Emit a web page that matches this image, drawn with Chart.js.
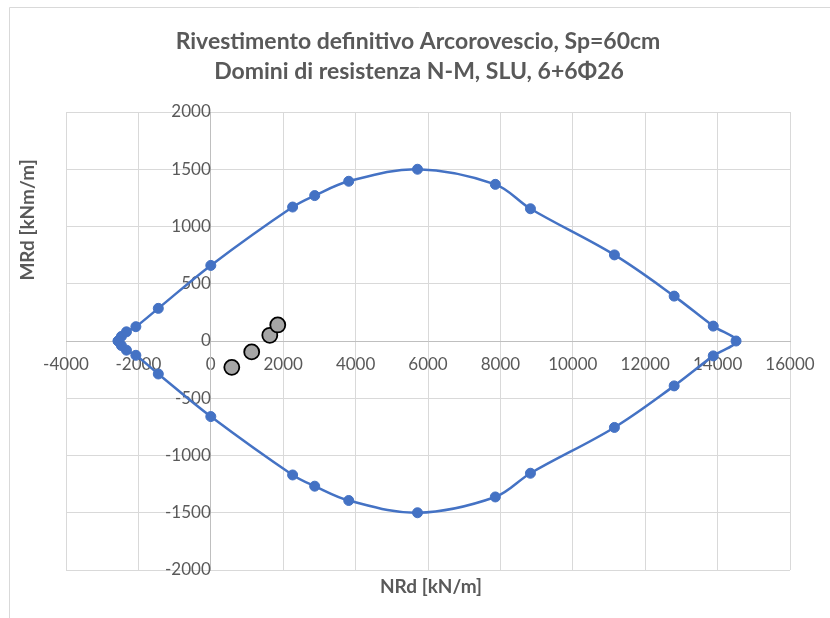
<!DOCTYPE html>
<html>
<head>
<meta charset="utf-8">
<script src="https://cdn.jsdelivr.net/npm/chart.js@4.4.0/dist/chart.umd.min.js"></script>
<style>
html,body{margin:0;padding:0;background:#ffffff;}
canvas{display:block;}
</style>
</head>
<body>
<canvas id="c" width="830" height="618"></canvas>
<script>
// ---- texts ----
const titleLines = ["Rivestimento definitivo Arcorovescio, Sp=60cm", "Domini di resistenza N-M, SLU, 6+6\u03A626"];
const xAxisTitle = "NRd [kN/m]";
const yAxisTitle = "MRd [kNm/m]";

// ---- data: resistance domain (closed loop, upper branch then lower branch) ----
const domainN = [-2560, -2470, -2330, -2070, -1450, 0, 2260, 2870, 3810, 5710, 7860, 8830, 11150, 12800, 13880, 14510,
                 13880, 12800, 11150, 8830, 7860, 5710, 3810, 2870, 2260, 0, -1450, -2070, -2330, -2470, -2560];
const domainM = [0, 40, 80, 125, 285, 660, 1170, 1270, 1395, 1500, 1368, 1155, 752, 392, 130, 0,
                 -130, -392, -755, -1155, -1362, -1500, -1393, -1268, -1170, -660, -288, -125, -80, -40, 0];

// ---- data: acting loads ----
const loadN = [580, 1130, 1630, 1850];
const loadM = [-230, -95, 50, 140];

// ---- tick labels ----
const xTicks = [-4000, -2000, 0, 2000, 4000, 6000, 8000, 10000, 12000, 14000, 16000];
const yTicks = [-2000, -1500, -1000, -500, 0, 500, 1000, 1500, 2000];

const domainPts = domainN.map((n, i) => ({x: n, y: domainM[i]}));
const loadPts = loadN.map((n, i) => ({x: n, y: loadM[i]}));

const TXT = '#595959';
const GRID = '#d9d9d9';

const decorPlugin = {
  id: 'decor',
  beforeDraw(chart) {
    const ctx = chart.ctx;
    ctx.save();
    ctx.fillStyle = '#ffffff';
    ctx.fillRect(0, 0, chart.width, chart.height);
    ctx.strokeStyle = GRID;
    ctx.lineWidth = 1;
    ctx.beginPath();
    ctx.moveTo(9.5, chart.height);
    ctx.lineTo(9.5, 7.5);
    ctx.lineTo(chart.width, 7.5);
    ctx.stroke();
    ctx.restore();
  },
  afterDraw(chart) {
    const ctx = chart.ctx;
    ctx.save();
    ctx.fillStyle = TXT;
    ctx.textAlign = 'center';
    ctx.textBaseline = 'middle';
    ctx.font = 'bold 23px Lato';
    ctx.fillText(titleLines[0], 418, 42);
    ctx.fillText(titleLines[1], 419, 72);
    ctx.font = 'bold 19px Lato';
    ctx.fillText(xAxisTitle, 431, 587);
    ctx.translate(28, 220);
    ctx.rotate(-Math.PI / 2);
    ctx.fillText(yAxisTitle, 0, 0);
    ctx.restore();
  }
};

new Chart(document.getElementById('c'), {
  type: 'scatter',
  data: {
    datasets: [
      {
        label: 'Carichi',
        data: loadPts,
        showLine: false,
        pointRadius: 7.5,
        pointHoverRadius: 7.5,
        pointBackgroundColor: '#a6a6a6',
        pointBorderColor: '#000000',
        pointBorderWidth: 1.8
      },
      {
        label: 'Dominio',
        data: domainPts,
        showLine: true,
        tension: 0.35,
        borderColor: '#4472c4',
        borderWidth: 2.5,
        pointRadius: 5,
        pointHoverRadius: 5,
        pointBackgroundColor: '#4472c4',
        pointBorderColor: '#4472c4',
        pointBorderWidth: 1
      }
    ]
  },
  options: {
    responsive: false,
    animation: false,
    devicePixelRatio: 1,
    layout: {padding: {left: 66, right: 40, top: 112, bottom: 48}},
    plugins: {
      legend: {display: false},
      tooltip: {enabled: false},
      title: {display: false}
    },
    scales: {
      x: {
        type: 'linear',
        position: {y: 0},
        min: -4000,
        max: 16000,
        afterBuildTicks: s => { s.ticks = xTicks.map(v => ({value: v})); },
        ticks: {color: TXT, font: {family: 'Lato', size: 17}, padding: 13, maxRotation: 0, autoSkip: false,
                callback: v => String(v)},
        grid: {color: GRID, lineWidth: 1, drawTicks: false},
        border: {color: '#bfbfbf', width: 1}
      },
      y: {
        type: 'linear',
        position: {x: 0},
        min: -2000,
        max: 2000,
        afterBuildTicks: s => { s.ticks = yTicks.map(v => ({value: v})); },
        ticks: {color: TXT, font: {family: 'Lato', size: 17}, padding: 10, autoSkip: false,
                callback: v => String(v)},
        grid: {color: GRID, lineWidth: 1, drawTicks: false},
        border: {color: '#bfbfbf', width: 1}
      }
    }
  },
  plugins: [decorPlugin]
});
</script>
</body>
</html>
